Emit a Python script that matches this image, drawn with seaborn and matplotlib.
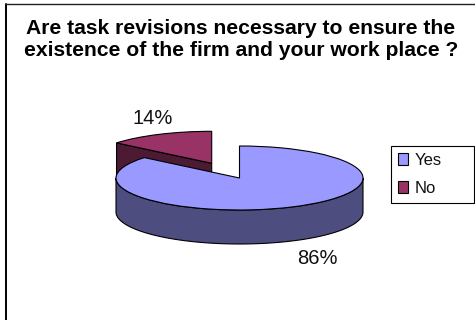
import numpy as np
import matplotlib
matplotlib.use("Agg")
import matplotlib.pyplot as plt
from matplotlib.lines import Line2D
from matplotlib.patches import Patch
import seaborn as sns

# Survey answers
answers = ["Yes", "No"]
shares = [86, 14]
title_lines = ["Are task revisions necessary to ensure the",
               "existence of the firm and your work place ?"]

top_colors = ["#9999FF", "#993366"]
wall_colors = ["#4D4D80", "#4D1A33"]

sns.set_theme(style="white")
plt.rcParams["font.family"] = ["Liberation Sans", "DejaVu Sans"]

W, H = 475, 320
fig = plt.figure(figsize=(W / 100, H / 100), dpi=100, facecolor="white")

# Full-figure layer measured in pixels, y running downward
page = fig.add_axes([0, 0, 1, 1], zorder=3)
page.set_xlim(0, W)
page.set_ylim(H, 0)
page.axis("off")
page.patch.set_alpha(0)

# Pie layer: one data unit is the ellipse semi-axis in each direction
cx, cy, rx, ry = 239.5, 178.0, 123.5, 32.0
depth = 34.0 / ry
ax = fig.add_axes([(cx - rx) / W, 1 - (cy + ry) / H, 2 * rx / W, 2 * ry / H], zorder=2)
ax.patch.set_alpha(0)

# The smaller slice is pulled away from the centre
no_offset = ((211.7 - cx) / rx, (cy - 163.3) / ry)

edge = dict(edgecolor="black", linewidth=0.8, clip_on=False)
boundary = 90 - 360 * shares[0] / sum(shares)


def arc(start, stop, centre=(0.0, 0.0), n=120):
    t = np.radians(np.linspace(start, stop, n))
    return centre[0] + np.cos(t), centre[1] + np.sin(t)


# Cut wall of the "No" slice, running from the apex to its outer tip
tip_x, tip_y = arc(boundary, boundary, no_offset, 1)
wall_x = [no_offset[0], tip_x[0], tip_x[0], no_offset[0]]
wall_y = [no_offset[1], tip_y[0], tip_y[0] - depth, no_offset[1] - depth]
ax.fill(wall_x, wall_y, facecolor=wall_colors[1], zorder=1, **edge)

# "No" top face
no_wedges, _ = ax.pie(shares, startangle=90, counterclock=False, colors=top_colors,
                      center=no_offset, radius=1, wedgeprops=edge)
no_wedges[0].set_visible(False)
no_wedges[1].set_zorder(2)

# Front wall of the "Yes" slice
front_x, front_y = arc(180, 360)
ax.fill(np.r_[front_x, front_x[::-1]], np.r_[front_y, front_y[::-1] - depth],
        facecolor=wall_colors[0], zorder=3, **edge)

# "Yes" top face
yes_wedges, _ = ax.pie(shares, startangle=90, counterclock=False, colors=top_colors,
                       center=(0, 0), radius=1, wedgeprops=edge)
yes_wedges[1].set_visible(False)
yes_wedges[0].set_zorder(4)

ax.set_aspect("auto")
ax.set_xlim(-1, 1)
ax.set_ylim(-1, 1)
ax.axis("off")

# Value labels
page.text(153, 118.5, f"{shares[1]}%", fontsize=14.5, color="#111111", ha="center", va="center")
page.text(317, 258.5, f"{shares[0]}%", fontsize=14.5, color="#111111", ha="center", va="center")

# Title
page.text(241, 28, title_lines[0], fontsize=15.2, fontweight="bold", color="black",
          ha="center", va="center")
page.text(241, 50, title_lines[1], fontsize=15.2, fontweight="bold", color="black",
          ha="center", va="center")

# Chart frame: open toward the right and bottom edges
page.add_line(Line2D([6, 6], [4, H], color="black", lw=1.4, clip_on=False))
page.add_line(Line2D([6, W], [4, 4], color="#222222", lw=1.0, clip_on=False))

# Legend
handles = [Patch(facecolor=c, edgecolor="black", linewidth=0.8, label=a)
           for c, a in zip(top_colors, answers)]
legend = page.legend(
    handles=handles,
    loc="center",
    bbox_to_anchor=(391, 146, 83, 57),
    bbox_transform=page.transData,
    mode="expand",
    fontsize=12,
    frameon=True,
    fancybox=False,
    edgecolor="black",
    facecolor="white",
    framealpha=1,
    borderaxespad=0,
    borderpad=0.4,
    handlelength=0.62,
    handleheight=0.75,
    handletextpad=0.42,
    labelspacing=0.8,
    labelcolor="#111111",
)
legend.get_frame().set_linewidth(0.8)

fig.savefig("out.png", dpi=100, facecolor="white")
